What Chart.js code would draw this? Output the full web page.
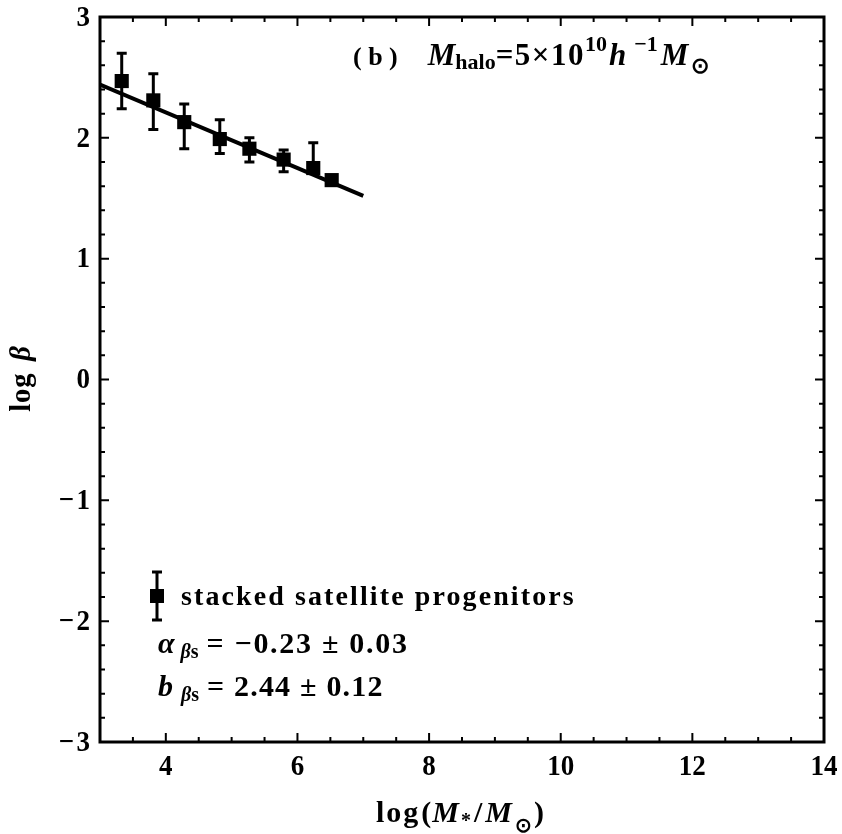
<!DOCTYPE html>
<html>
<head>
<meta charset="utf-8">
<script src="https://cdn.jsdelivr.net/npm/chart.js@4.4.1/dist/chart.umd.min.js"></script>
<style>
html,body{margin:0;padding:0;background:#fff;}
#c{display:block;}
</style>
</head>
<body>
<canvas id="c" width="842" height="834"></canvas>
<script>
// ---- data ----
const xValues = [3.33, 3.81, 4.28, 4.82, 5.27, 5.79, 6.24, 6.52];
const yValues = [2.47, 2.31, 2.13, 1.99, 1.91, 1.82, 1.75, 1.65];
const yUpper  = [2.70, 2.53, 2.28, 2.15, 2.00, 1.90, 1.96, 1.67];
const yLower  = [2.24, 2.07, 1.91, 1.87, 1.80, 1.72, 1.72, 1.63];
const fitX = [3, 7];
const fitY = [2.44, 1.52];
const xTickValues = [4, 6, 8, 10, 12, 14];
const yTickValues = [-3, -2, -1, 0, 1, 2, 3];
const legendLabel = 'stacked satellite progenitors';

const SERIF = '"Liberation Serif", "Times New Roman", serif';
const B = s => 'bold ' + s + 'px ' + SERIF;
const BI = s => 'italic bold ' + s + 'px ' + SERIF;

// draw a sequence of text runs (mixed fonts / sub / superscripts)
function drawRuns(ctx, x, y, runs, align, sx) {
  sx = sx || 1;
  let total = 0;
  runs.forEach(r => { ctx.font = r.font; ctx.letterSpacing = r.ls || '0px'; r.w = ctx.measureText(r.t).width + (r.gap || 0); total += r.w; });
  ctx.save();
  ctx.translate(x, y);
  ctx.scale(sx, 1);
  let cx = align === 'center' ? -total / 2 : (align === 'right' ? -total : 0);
  runs.forEach(r => {
    ctx.font = r.font; ctx.letterSpacing = r.ls || '0px';
    ctx.fillText(r.t, cx, r.dy || 0);
    cx += r.w;
  });
  ctx.restore();
  ctx.letterSpacing = '0px';
}

const errorAndFrame = {
  id: 'errorAndFrame',
  afterDatasetsDraw(chart) {
    const ctx = chart.ctx, xs = chart.scales.x, ys = chart.scales.y, a = chart.chartArea;
    ctx.save();
    ctx.strokeStyle = '#000'; ctx.fillStyle = '#000';
    // error bars
    ctx.lineWidth = 3;
    xValues.forEach((xv, i) => {
      const px = xs.getPixelForValue(xv);
      const pu = ys.getPixelForValue(yUpper[i]);
      const pl = ys.getPixelForValue(yLower[i]);
      ctx.beginPath();
      ctx.moveTo(px, pu); ctx.lineTo(px, pl);
      ctx.moveTo(px - 5, pu); ctx.lineTo(px + 5, pu);
      ctx.moveTo(px - 5, pl); ctx.lineTo(px + 5, pl);
      ctx.stroke();
    });
    // inward ticks
    ctx.lineWidth = 2;
    ctx.beginPath();
    for (let v = 3.5; v < 14; v += 0.5) {
      const px = xs.getPixelForValue(v);
      const len = (Math.abs(v % 2) < 1e-6) ? 9 : 5;
      ctx.moveTo(px, a.bottom); ctx.lineTo(px, a.bottom - len);
      ctx.moveTo(px, a.top); ctx.lineTo(px, a.top + len);
    }
    for (let k = -14; k <= 14; k++) {
      const v = k / 5;
      const py = ys.getPixelForValue(v);
      const len = (k % 5 === 0) ? 9 : 5;
      ctx.moveTo(a.left, py); ctx.lineTo(a.left + len, py);
      ctx.moveTo(a.right, py); ctx.lineTo(a.right - len, py);
    }
    ctx.stroke();
    // frame
    ctx.lineWidth = 3;
    ctx.strokeRect(a.left, a.top, a.right - a.left, a.bottom - a.top);

    ctx.textAlign = 'left';
    // tick labels
    ctx.textBaseline = 'alphabetic';
    xTickValues.forEach(v => {
      drawRuns(ctx, xs.getPixelForValue(v), a.bottom + 33, [{t: String(v), font: B(30)}], 'center', 0.9);
    });
    ctx.textBaseline = 'middle';
    yTickValues.forEach(v => {
      const runs = v < 0 ? [{t: '\u2212', font: B(30), gap: 3}, {t: String(-v), font: B(30)}] : [{t: String(v), font: B(30)}];
      drawRuns(ctx, a.left - 10, ys.getPixelForValue(v) + 1, runs, 'right', 0.9);
    });
    ctx.textBaseline = 'alphabetic';

    // title
    drawRuns(ctx, 353, 65, [
      {t: '( b )', font: B(26), gap: 30},
      {t: 'M', font: BI(31)},
      {t: 'halo', font: B(22), dy: 4},
      {t: '=5\u00d710', font: B(31), ls: '1.5px'},
      {t: '10', font: B(22), dy: -14, gap: 2},
      {t: 'h', font: BI(31), gap: 8},
      {t: '\u22121', font: B(22), dy: -14, gap: 3},
      {t: 'M', font: BI(31), gap: 3},
      {t: '\u2299', font: B(22), dy: 8}
    ]);
    // legend marker
    const lx = 157, ly = 596;
    ctx.lineWidth = 3;
    ctx.beginPath();
    ctx.moveTo(lx, 572); ctx.lineTo(lx, 620);
    ctx.moveTo(lx - 5, 572); ctx.lineTo(lx + 5, 572);
    ctx.moveTo(lx - 5, 620); ctx.lineTo(lx + 5, 620);
    ctx.stroke();
    ctx.fillRect(lx - 7, ly - 7, 14, 14);
    drawRuns(ctx, 181, 605, [{t: legendLabel, font: B(28), ls: '2.1px'}]);
    drawRuns(ctx, 158, 653, [
      {t: '\u03b1', font: BI(30), gap: 6},
      {t: '\u03b2', font: BI(20), dy: 5},
      {t: 's', font: B(20), dy: 5, gap: 8},
      {t: '= \u22120.23 \u00b1 0.03', font: B(30), ls: '1.7px'}
    ]);
    drawRuns(ctx, 158, 696, [
      {t: 'b', font: BI(30), gap: 8},
      {t: '\u03b2', font: BI(20), dy: 5},
      {t: 's', font: B(20), dy: 5, gap: 8},
      {t: '= 2.44 \u00b1 0.12', font: B(30), ls: '1.2px'}
    ]);
    // x axis title
    drawRuns(ctx, 460, 822, [
      {t: 'log', font: B(30), ls: '2px', gap: 1},
      {t: '(', font: B(30), gap: 1},
      {t: 'M', font: BI(30), gap: 2},
      {t: '*', font: B(20), dy: 5, gap: 3},
      {t: '/', font: B(30), gap: 3},
      {t: 'M', font: BI(30), gap: 3},
      {t: '\u2299', font: B(20), dy: 10, gap: 2},
      {t: ')', font: B(30)}
    ], 'center');
    // y axis title
    ctx.translate(30, 379);
    ctx.rotate(-Math.PI / 2);
    drawRuns(ctx, 0, 0, [
      {t: 'log ', font: B(30), ls: '1px', gap: 4},
      {t: '\u03b2', font: BI(30)}
    ], 'center', 0.95);
    ctx.restore();
  }
};

new Chart(document.getElementById('c'), {
  data: {
    datasets: [
      {
        type: 'line',
        data: fitX.map((x, i) => ({x, y: fitY[i]})),
        borderColor: '#000', borderWidth: 4, pointRadius: 0, fill: false
      },
      {
        type: 'scatter',
        data: xValues.map((x, i) => ({x, y: yValues[i]})),
        pointStyle: 'rect', pointRadius: 10, pointHoverRadius: 10,
        backgroundColor: '#000', borderColor: '#000', borderWidth: 0
      }
    ]
  },
  options: {
    responsive: false,
    animation: false,
    events: [],
    layout: {padding: {top: 17, right: 18, left: 0, bottom: 0}},
    plugins: {legend: {display: false}, tooltip: {enabled: false}},
    scales: {
      x: {
        type: 'linear', min: 3, max: 14,
        afterBuildTicks: s => { s.ticks = xTickValues.map(v => ({value: v})); },
        afterFit: s => { s.height = 92; s.paddingLeft = 0; s.paddingRight = 0; },
        grid: {display: false, drawTicks: false},
        border: {display: false},
        ticks: {display: false}
      },
      y: {
        type: 'linear', min: -3, max: 3,
        afterBuildTicks: s => { s.ticks = yTickValues.map(v => ({value: v})); },
        afterFit: s => { s.width = 100; s.paddingTop = 0; s.paddingBottom = 0; },
        grid: {display: false, drawTicks: false},
        border: {display: false},
        ticks: {display: false}
      }
    }
  },
  plugins: [errorAndFrame]
});
</script>
</body>
</html>
